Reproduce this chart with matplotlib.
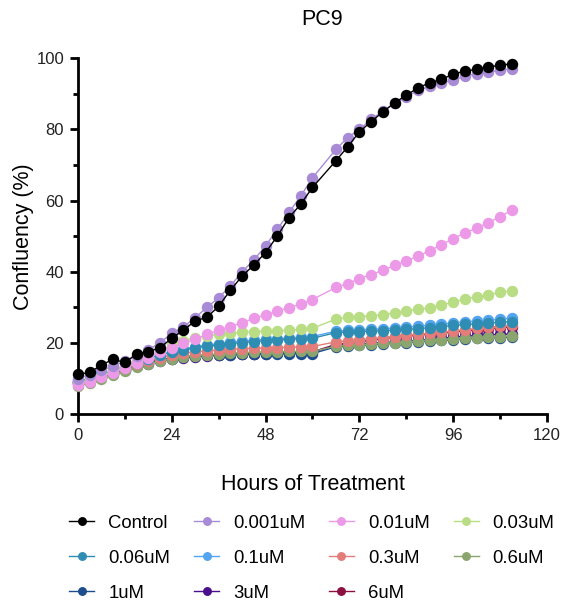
import matplotlib
matplotlib.use('Agg')
import matplotlib.pyplot as plt
from matplotlib.ticker import MultipleLocator

plt.rcParams['font.family'] = ['Liberation Sans', 'DejaVu Sans']

# time points (hours); no reading at 63 h
hours = [0, 3, 6, 9, 12, 15, 18, 21, 24, 27, 30, 33, 36, 39, 42, 45, 48, 51, 54, 57, 60,
         66, 69, 72, 75, 78, 81, 84, 87, 90, 93, 96, 99, 102, 105, 108, 111]

labels = ['Control', '0.001uM', '0.01uM', '0.03uM', '0.06uM', '0.1uM',
          '0.3uM', '0.6uM', '1uM', '3uM', '6uM']
colors = ['#000000', '#a88bd6', '#ec9ae8', '#b8dd84', '#2f8db3', '#54a4f0',
          '#e27d7a', '#8aa56d', '#1c4d8c', '#4a0f8c', '#8c0f42']

control = [11.2, 11.7, 13.8, 15.4, 14.5, 16.9, 17.5, 18.7, 21.3, 23.6, 26.2, 27.2, 30.3, 34.8,
           38.8, 41.9, 45.4, 50.0, 55.2, 59.0, 63.7,
           71.2, 75.1, 79.3, 82.2, 84.9, 87.5, 89.6, 91.7, 93.1, 94.1, 95.5, 96.4, 96.9, 97.6,
           98.0, 98.5]
c_0001 = [10.0, 11.0, 12.3, 13.5, 14.8, 16.3, 18.0, 20.1, 22.7, 24.5, 27.1, 30.0, 32.7, 36.0,
          40.0, 43.3, 47.3, 51.9, 56.7, 61.3, 66.4,
          74.4, 77.7, 80.0, 82.8, 85.1, 87.3, 89.1, 91.0, 92.1, 93.1, 93.8, 95.0, 95.7, 96.1,
          96.6, 97.1]
c_001 = [8.3, 9.1, 10.5, 11.6, 13.0, 14.3, 15.8, 17.5, 18.6, 19.9, 21.0, 22.4, 23.5, 24.6,
         25.7, 26.9, 27.9, 28.9, 29.9, 30.9, 32.2,
         35.6, 36.7, 38.1, 39.2, 40.4, 41.8, 43.0, 44.4, 45.9, 47.6, 49.3, 50.9, 52.3, 53.8,
         55.5, 57.3]
c_003 = [8.8, 9.5, 10.8, 12.0, 13.3, 14.6, 16.0, 17.6, 19.6, 20.6, 21.5, 22.0, 22.4, 22.7,
         23.0, 23.2, 23.3, 23.4, 23.6, 23.8, 24.1,
         26.7, 27.2, 27.4, 27.6, 27.9, 28.5, 28.9, 29.4, 29.9, 30.6, 31.5, 32.3, 33.0, 33.5,
         34.3, 34.6]
c_006 = [9.5, 9.8, 11.0, 12.2, 13.3, 14.5, 15.6, 16.6, 17.4, 18.0, 18.6, 19.1, 19.4, 19.8,
         20.1, 20.4, 20.6, 20.8, 21.0, 21.2, 21.3,
         22.9, 23.1, 23.2, 23.3, 23.4, 23.6, 23.8, 24.0, 24.3, 24.6, 24.9, 25.2, 25.4, 25.6,
         25.8, 26.0]
c_01 = [9.3, 9.7, 10.9, 12.1, 13.2, 14.4, 15.6, 16.7, 17.6, 18.3, 18.9, 19.4, 19.8, 20.2,
        20.5, 20.8, 21.0, 21.2, 21.4, 21.6, 21.8,
        23.3, 23.5, 23.7, 23.8, 24.0, 24.2, 24.4, 24.7, 25.0, 25.3, 25.6, 25.9, 26.2, 26.4,
        26.7, 27.0]
c_03 = [9.0, 9.4, 10.6, 11.8, 12.9, 14.0, 15.0, 15.9, 16.6, 17.1, 17.5, 17.8, 18.0, 18.2,
        18.4, 18.5, 18.6, 18.7, 18.8, 18.9, 19.0,
        20.3, 20.6, 20.9, 21.2, 21.5, 21.8, 22.1, 22.4, 22.7, 23.0, 23.4, 23.7, 24.1, 24.4,
        24.7, 25.0]
c_06 = [8.0, 8.6, 9.9, 11.0, 12.1, 13.1, 14.1, 14.9, 15.5, 16.0, 16.4, 16.7, 16.9, 17.1,
        17.3, 17.4, 17.5, 17.5, 17.6, 17.6, 17.6,
        19.1, 19.3, 19.5, 19.7, 19.9, 20.1, 20.3, 20.5, 20.7, 20.9, 21.1, 21.3, 21.5, 21.6,
        21.8, 21.9]
c_1 = [8.8, 9.2, 10.3, 11.4, 12.5, 13.5, 14.4, 15.1, 15.6, 16.0, 16.3, 16.5, 16.6, 16.7,
       16.8, 16.8, 16.9, 16.9, 17.0, 17.0, 17.0,
       18.9, 19.1, 19.3, 19.5, 19.7, 19.9, 20.1, 20.3, 20.5, 20.7, 20.9, 21.1, 21.3, 21.4,
       21.5, 21.6]
c_3 = [8.9, 9.3, 10.4, 11.5, 12.5, 13.4, 14.2, 14.9, 15.4, 15.8, 16.1, 16.4, 16.6, 16.7,
       16.8, 16.9, 17.0, 17.1, 17.2, 17.3, 17.4,
       19.3, 19.5, 19.7, 19.9, 20.1, 20.3, 20.5, 20.7, 21.0, 21.3, 21.6, 21.9, 22.1, 22.3,
       22.4, 22.5]
c_6 = [8.7, 9.2, 10.4, 11.5, 12.6, 13.6, 14.5, 15.3, 15.8, 16.1, 16.3, 16.5, 16.6, 16.8,
       16.9, 17.0, 17.1, 17.2, 17.3, 17.4, 17.5,
       19.6, 19.9, 20.3, 20.8, 21.2, 21.6, 21.9, 22.2, 22.5, 22.8, 23.1, 23.4, 23.7, 24.0,
       24.3, 24.5]

series = [control, c_0001, c_001, c_003, c_006, c_01, c_03, c_06, c_1, c_3, c_6]

fig = plt.figure(figsize=(5.65, 6.01), dpi=100)
ax = fig.add_axes([0.138, 0.311, 0.830, 0.592])

n = len(series)
handles = []
for i, (vals, lab, col) in enumerate(zip(series, labels, colors)):
    # first data set drawn on top, like Prism
    h, = ax.plot(hours, vals, color=col, lw=1.0, marker='o', ms=7.2, mec=col, mfc=col,
                 label=lab, zorder=10 + n - i, clip_on=False)
    handles.append(h)

ax.set_xlim(0, 120)
ax.set_ylim(0, 100)
ax.xaxis.set_major_locator(MultipleLocator(24))
ax.xaxis.set_minor_locator(MultipleLocator(12))
ax.yaxis.set_major_locator(MultipleLocator(20))
ax.yaxis.set_minor_locator(MultipleLocator(10))

for s in ['top', 'right']:
    ax.spines[s].set_visible(False)
for s in ['left', 'bottom']:
    ax.spines[s].set_linewidth(2.0)
ax.tick_params(which='major', length=6, width=2.0, labelsize=12, labelcolor='#222222', pad=4)
ax.tick_params(which='minor', length=3.5, width=2.0)

ax.set_title('PC9', fontsize=15.5, pad=24, x=0.52)
ax.set_ylabel('Confluency (%)', fontsize=15.5, labelpad=2)
ax.set_xlabel('Hours of Treatment', fontsize=15.5, labelpad=22)

# legend laid out row by row (4 per row)
order = [0, 4, 8, 1, 5, 9, 2, 6, 10, 3, 7]
ax.legend([handles[k] for k in order], [labels[k] for k in order],
          loc='upper left', bbox_to_anchor=(-0.034, -0.262), ncol=4, frameon=False,
          fontsize=13.3, handlelength=1.35, columnspacing=1.3, labelspacing=0.98,
          markerscale=0.75, handletextpad=0.75, borderaxespad=0)

plt.savefig('out.png', dpi=100)
